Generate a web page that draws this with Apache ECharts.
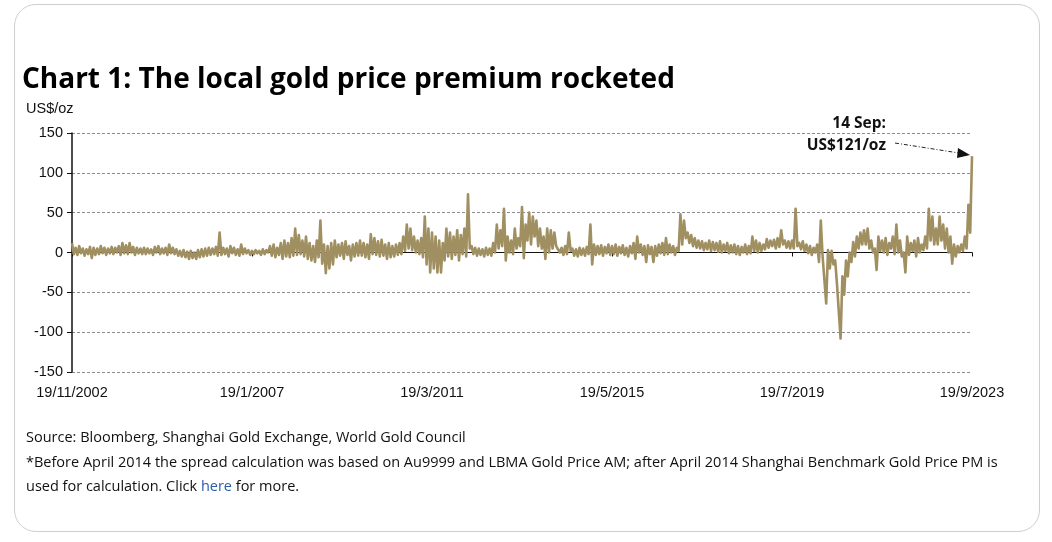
<!DOCTYPE html>
<html>
<head>
<meta charset="utf-8">
<script src="https://cdn.jsdelivr.net/npm/echarts@6/dist/echarts.min.js"></script>
<style>
  html, body { margin: 0; padding: 0; background: #fff; }
  #frame { position: absolute; left: 14px; top: 4px; width: 1024px; height: 526px; border: 1px solid #cfcfcf; border-radius: 22px; }
  #chart { position: absolute; left: 0; top: 0; width: 1052px; height: 542px; }
</style>
</head>
<body>
<div id="frame"></div>
<div id="chart"></div>
<script>
// tick labels on the month axis (every 50 months from Nov 2002)
const tickLabels = ['19/11/2002', '19/1/2007', '19/3/2011', '19/5/2015', '19/7/2019', '19/9/2023']

// monthly high of the premium, US$/oz, Nov 2002 .. Sep 2023
const monthHigh = [
  12, 6, 8, 5, 4, 7, 6, 5, 8, 6,
  5, 7, 6, 8, 12, 9, 12, 7, 6, 5,
  6, 5, 4, 7, 8, 5, 6, 10, 6, 4,
  2, 3, 1, 2, 0, 3, 4, 5, 6, 5,
  7, 25, 6, 5, 8, 6, 4, 10, 5, 3,
  2, 3, 2, 4, 3, 8, 10, 6, 12, 15,
  12, 18, 30, 22, 15, 20, 12, 8, 15, 40,
  10, 8, 12, 15, 10, 12, 14, 8, 10, 12,
  15, 12, 10, 23, 18, 14, 16, 10, 12, 8,
  10, 12, 20, 35, 30, 20, 15, 18, 45, 30,
  25, 20, 15, 12, 30, 25, 20, 28, 22, 30,
  73, 8, 6, 5, 4, 6, 5, 12, 35, 28,
  55, 20, 15, 30, 18, 57, 35, 50, 45, 40,
  30, 20, 30, 28, 25, 10, 6, 8, 25, 5,
  4, 6, 5, 7, 35, 10, 8, 9, 7, 10,
  8, 10, 7, 9, 6, 8, 12, 20, 10, 8,
  9, 7, 8, 10, 12, 18, 10, 8, 6, 48,
  40, 25, 22, 18, 15, 14, 12, 15, 13, 12,
  14, 10, 12, 9, 10, 8, 7, 10, 8, 20,
  15, 12, 10, 17, 15, 16, 18, 28, 15, 14,
  15, 55, 12, 14, 10, 8, 6, 10, 40, -5,
  3, 2, -10, -40, -30, -10, 0, 13, 20, 25,
  28, 30, 15, 5, 20, 15, 18, 12, 20, 35,
  15, 0, 20, 12, 15, 18, 10, 20, 55, 45,
  30, 45, 35, 30, 20, 10, 8, 10, 20, 60,
  121
]

// monthly low of the premium, US$/oz, Nov 2002 .. Aug 2023
const monthLow = [
  -2, -3, -1, -4, -2, -7, -3, -2, -1, -3,
  -1, -2, 0, -3, -1, -2, 0, -3, -1, -2,
  -2, -1, -3, 0, -2, -1, -3, -1, -2, -4,
  -5, -6, -8, -7, -8, -6, -5, -4, -3, -2,
  -4, -3, -2, -5, -1, -3, -4, -2, -1, -3,
  -2, -1, -3, -2, 0, -4, -6, -3, -8, -5,
  -6, -4, -3, -2, -5, -8, -10, -12, -6, -14,
  -26, -20, -15, -6, -4, -8, -3, -10, -5, -4,
  -4, -6, -8, -2, -3, -5, -4, -8, -6, -5,
  -3, -2, 2, 5, 3, 0, -2, -6, -15, -25,
  -20, -25, -25, -10, -5, -8, -3, -10, -2, -5,
  5, -2, -4, -3, -5, -3, -4, 0, 5, 8,
  -10, 0, -2, 5, 8, -7, 15, 10, 20, 8,
  5, -8, 0, 5, 8, 0, -3, -2, 2, -4,
  -5, -3, -4, -2, -15, -3, -2, -4, -1, -3,
  -2, -4, -1, -3, -5, -1, -8, 0, -3, -12,
  -2, -12, -4, -1, -3, -2, 0, -3, 2, 10,
  18, 12, 8, 6, 5, 3, 4, 2, 3, 1,
  0, 2, -1, 0, -2, -3, 0, -2, -1, 2,
  0, 2, 4, 6, 8, 5, 7, 10, 6, 5,
  5, 8, 4, 2, -1, -3, 0, -12, -5, -64,
  -20, -15, -40, -108, -53, -30, -12, -5, 5, 10,
  10, 5, 0, -22, 2, 0, -3, 5, -2, 0,
  -5, -25, -3, 2, -5, 0, 3, 5, 15, 10,
  10, 15, 5, 0, -14, -5, 0, 2, 5, 25
]

const gold = '#a08f60'

// interleave the monthly high and low so the line keeps its dense look
const points = []
monthHigh.forEach((v, i) => {
  points.push([i, v])
  if (i < monthLow.length) points.push([i + 0.5, monthLow[i]])
})

const chart = echarts.init(document.getElementById('chart'))
const textFont = '"Open Sans", "Noto Sans", sans-serif'
const axisFont = '"Liberation Sans", Arial, sans-serif'

const option = {
  animation: false,
  grid: { left: 72, right: 80, top: 133, bottom: 170, containLabel: false },
  xAxis: [
    {
      type: 'value', min: 0, max: 250, interval: 50, position: 'bottom',
      axisLine: { show: false, onZero: false },
      axisTick: { show: false },
      splitLine: { show: false },
      axisLabel: {
        margin: 13, color: '#111', fontSize: 14.5, fontFamily: axisFont,
        formatter: v => tickLabels[Math.round(v / 50)]
      }
    },
    {
      type: 'value', min: 0, max: 250, interval: 50, position: 'bottom',
      axisLine: { show: true, onZero: true, lineStyle: { color: '#111', width: 1 } },
      axisTick: { show: true, length: 4, lineStyle: { color: '#111' } },
      axisLabel: { show: false },
      splitLine: { show: false }
    }
  ],
  yAxis: {
    type: 'value', min: -150, max: 150, interval: 50,
    axisLine: { show: true, onZero: false, lineStyle: { color: '#111', width: 1.5 } },
    axisTick: { show: true, length: 5, lineStyle: { color: '#111' } },
    axisLabel: { margin: 9, color: '#111', fontSize: 14.5, fontFamily: axisFont },
    splitLine: { show: true, lineStyle: { color: '#8c8c8c', type: [3, 2], width: 1 } }
  },
  series: [
    {
      type: 'line', xAxisIndex: 0, data: points, showSymbol: false,
      lineStyle: { color: gold, width: 2.6, join: 'round' }, z: 5
    }
  ],
  graphic: [
    { type: 'text', left: 22, top: 66, style: { text: 'Chart 1: The local gold price premium rocketed', font: 'bold 28px ' + textFont, fill: '#000' } },
    { type: 'text', left: 26, top: 101, style: { text: 'US$/oz', font: '14.5px ' + axisFont, fill: '#111' } },
    { type: 'text', x: 886, y: 116, style: { text: '14 Sep:', align: 'right', font: 'bold 15.5px ' + textFont, fill: '#111' } },
    { type: 'text', x: 886, y: 138, style: { text: 'US$121/oz', align: 'right', font: 'bold 15.5px ' + textFont, fill: '#111' } },
    { type: 'line', shape: { x1: 895, y1: 143, x2: 959, y2: 153 }, style: { stroke: '#222', lineWidth: 1, lineDash: [4, 2, 1, 2] } },
    { type: 'polygon', shape: { points: [[970, 155], [958, 148], [957, 158]] }, style: { fill: '#111' } },
    { type: 'text', left: 26, top: 430, style: { text: 'Source: Bloomberg, Shanghai Gold Exchange, World Gold Council', font: '14.5px ' + textFont, fill: '#111' } },
    { type: 'text', left: 26, top: 455, style: { text: '*Before April 2014 the spread calculation was based on Au9999 and LBMA Gold Price AM; after April 2014 Shanghai Benchmark Gold Price PM is', font: '14.5px ' + textFont, fill: '#111' } },
    {
      type: 'text', left: 26, top: 479,
      style: {
        text: 'used for calculation. Click {link|here} for more.', font: '14.5px ' + textFont, fill: '#111',
        rich: { link: { fill: '#2b5da8', font: '14.5px ' + textFont } }
      }
    }
  ]
}
chart.setOption(option)
</script>
</body>
</html>
